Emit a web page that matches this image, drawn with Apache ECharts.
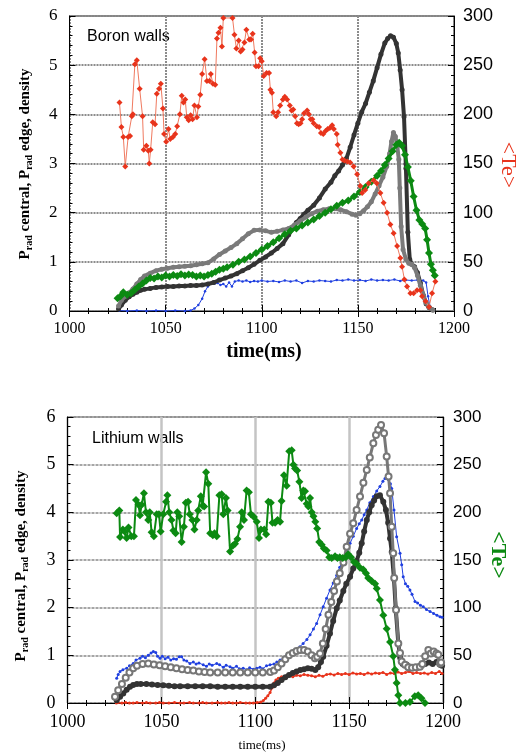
<!DOCTYPE html>
<html>
<head>
<meta charset="utf-8">
<script src="https://cdn.jsdelivr.net/npm/echarts@6/dist/echarts.min.js"></script>
<style>
  html, body { margin: 0; padding: 0; background: #fff; }
  #chart { width: 518px; height: 756px; }
</style>
</head>
<body>
<div id="chart"></div>
<script>
// ---- data: [time (ms), value] ----
// Boron walls (top panel)
const boronTe = [[1026,212],[1027,187],[1028,177],[1029,147],[1030.5,177],[1031.5,178],[1032.4,198],[1033,200],[1034,251],[1035,255],[1036.5,226],[1038,198],[1038.6,164],[1040,168],[1041,163],[1041.5,150],[1042.2,164],[1043.3,192],[1044.5,190],[1045.4,221],[1046.6,226],[1047.5,231],[1048.6,206],[1049.2,180],[1050.3,172],[1051.5,185],[1052.4,175],[1053.8,177],[1055,180],[1056,188],[1057.4,200],[1058.4,219],[1059.3,212],[1060.2,215],[1061,197],[1062,194],[1063,199],[1064,195],[1065,209],[1066.3,197],[1067,208],[1068,220],[1069,241],[1070.3,256],[1071.5,234],[1072.8,234],[1073.5,241],[1074.6,231],[1075.8,230],[1076.7,277],[1077.5,283],[1078.5,288],[1079.3,269],[1080,298],[1084.8,298],[1085.8,281],[1086.8,267],[1088,275],[1089,264],[1090,266],[1091,273],[1092,286],[1093.5,276],[1094.4,276],[1095.3,282],[1096.3,263],[1097,249],[1098.3,249],[1099.2,257],[1100,254],[1101,239],[1102.5,242],[1103.8,242],[1104.5,225],[1105.3,222],[1106,202],[1107.5,198],[1108.5,202],[1109.6,209],[1111,215],[1112,218],[1113.2,215],[1114.6,209],[1115.5,204],[1116.4,205],[1117.4,198],[1118.3,191],[1119.2,190],[1120.2,191],[1121,195],[1122,201],[1123.6,204],[1124.5,200],[1125.5,195],[1126.3,195],[1127,191],[1128.6,188],[1129.8,187],[1130.8,181],[1132,180],[1133.2,183],[1134.3,185],[1135.4,186],[1136.6,189],[1137.5,185],[1139,180],[1139.5,169],[1140.9,161],[1142,154],[1143,153],[1144.5,152],[1146,151],[1147.8,147],[1149.6,139],[1151.3,127],[1152.2,120],[1153.8,123],[1155.6,130],[1158.2,133],[1159.8,130],[1161.7,120],[1163.4,110],[1165.2,100],[1166.9,88],[1168.6,79],[1170.4,66],[1172.1,54],[1173,45],[1174.2,32],[1175.6,25],[1177.3,18],[1179,18],[1180.8,21],[1182.5,21],[1183.4,15],[1185.2,10],[1187,4],[1188.6,18],[1190.3,30]];
const boronDark = [[1025.5,0.04],[1027,0.12],[1029,0.22],[1031,0.29],[1033,0.34],[1035,0.38],[1037,0.42],[1039,0.44],[1042,0.46],[1045,0.48],[1048,0.49],[1051,0.50],[1054,0.50],[1057,0.51],[1060,0.51],[1063,0.52],[1066,0.52],[1069,0.53],[1072,0.55],[1075,0.58],[1078,0.63],[1081,0.67],[1084,0.71],[1087,0.76],[1090,0.82],[1093,0.88],[1096,0.95],[1099,1.03],[1102,1.10],[1105,1.18],[1108,1.27],[1111,1.37],[1114,1.55],[1116,1.68],[1118,1.80],[1120,1.88],[1122,1.97],[1124,2.05],[1127,2.15],[1130,2.30],[1133,2.48],[1136,2.62],[1138,2.75],[1140,2.85],[1142,2.97],[1144,3.10],[1146,3.33],[1148,3.58],[1150,3.82],[1152,4.05],[1154,4.22],[1156,4.45],[1158,4.68],[1160,4.95],[1162,5.22],[1164,5.45],[1165.5,5.54],[1167,5.60],[1168.5,5.57],[1170,5.44],[1171,5.25],[1172,4.90],[1173,4.50],[1174,3.95],[1175,2.90],[1176,1.60],[1177,1.05],[1178,0.95],[1179.5,0.90],[1181,0.78],[1182.5,0.57],[1184,0.32],[1185.5,0.15],[1187,0.07],[1189,0.02]];
const boronGray = [[1025.5,0.10],[1027,0.22],[1029,0.30],[1031,0.37],[1033,0.45],[1035,0.55],[1037,0.64],[1039,0.71],[1042,0.77],[1045,0.82],[1048,0.85],[1051,0.87],[1054,0.89],[1057,0.90],[1060,0.91],[1063,0.92],[1066,0.94],[1069,0.96],[1072,0.98],[1075,1.06],[1078,1.15],[1081,1.22],[1084,1.29],[1087,1.37],[1090,1.47],[1093,1.57],[1096,1.64],[1099,1.65],[1102,1.63],[1105,1.60],[1108,1.62],[1111,1.65],[1114,1.68],[1117,1.75],[1120,1.83],[1123,1.91],[1126,1.98],[1129,2.03],[1132,2.06],[1135,2.08],[1138,2.08],[1141,2.06],[1144,2.02],[1147,1.97],[1149,1.95],[1151,1.98],[1153,2.04],[1155,2.12],[1157,2.22],[1159,2.38],[1161,2.55],[1163,2.72],[1165,2.94],[1166.5,3.20],[1167.5,3.45],[1168.5,3.63],[1169.5,3.55],[1170.5,3.35],[1171.3,3.08],[1171.8,2.50],[1172.5,1.72],[1173.5,1.25],[1175,1.05],[1176.5,0.97],[1178,0.95],[1179.5,0.88],[1181,0.72],[1182.5,0.52],[1184,0.32],[1185.5,0.17],[1187,0.08],[1189,0.02]];
const boronGreen = [[1025,0.26],[1026.5,0.30],[1028,0.38],[1030,0.33],[1032,0.36],[1034,0.43],[1036,0.50],[1038,0.56],[1040,0.62],[1042,0.67],[1044,0.66],[1046,0.70],[1048,0.68],[1050,0.72],[1052,0.70],[1054,0.73],[1056,0.71],[1058,0.75],[1060,0.72],[1062,0.74],[1064,0.73],[1066,0.70],[1068,0.72],[1070,0.70],[1072,0.73],[1074,0.76],[1076,0.80],[1078,0.84],[1080,0.86],[1082,0.89],[1085,0.94],[1088,1.00],[1091,1.05],[1094,1.11],[1097,1.18],[1100,1.25],[1103,1.32],[1106,1.40],[1109,1.48],[1112,1.56],[1115,1.63],[1118,1.68],[1121,1.74],[1124,1.80],[1127,1.86],[1130,1.93],[1133,2.00],[1136,2.07],[1139,2.14],[1142,2.20],[1145,2.25],[1148,2.33],[1151,2.42],[1154,2.52],[1157,2.63],[1160,2.75],[1162,2.85],[1164,2.97],[1166,3.10],[1168,3.25],[1170,3.38],[1171.5,3.42],[1173,3.36],[1174.5,3.18],[1176,2.93],[1177.5,2.65],[1179,2.33],[1180.5,2.05],[1182,1.85],[1183.5,1.77],[1185,1.68],[1186,1.45],[1187,1.18],[1188,0.95],[1189,0.83],[1190,0.72]];
const boronBlue = [[1026,0.01],[1030,0.0],[1035,0.01],[1040,0.0],[1045,0.01],[1050,0.0],[1055,0.01],[1060,0.0],[1063,0.01],[1065,0.05],[1067,0.12],[1069,0.25],[1070.5,0.40],[1072,0.50],[1074,0.58],[1075.5,0.56],[1077,0.57],[1078.5,0.53],[1080,0.55],[1081.5,0.50],[1083,0.58],[1084.5,0.50],[1086,0.60],[1088,0.62],[1090,0.60],[1092,0.62],[1094,0.59],[1096,0.61],[1098,0.60],[1100,0.62],[1103,0.60],[1106,0.61],[1109,0.59],[1112,0.62],[1115,0.60],[1118,0.62],[1121,0.57],[1124,0.61],[1127,0.60],[1130,0.62],[1133,0.61],[1136,0.60],[1139,0.63],[1142,0.62],[1145,0.64],[1148,0.62],[1151,0.63],[1154,0.61],[1157,0.64],[1160,0.62],[1163,0.63],[1166,0.62],[1169,0.64],[1172,0.61],[1175,0.63],[1178,0.62],[1181,0.63],[1184,0.62],[1185.5,0.58],[1186.5,0.30],[1187.5,0.10],[1188.5,0.02],[1189.5,0.01]];

// Lithium walls (bottom panel)
const lithiumTe = [[1026.2,199],[1027.6,202],[1028,174],[1029.5,182],[1030.5,180],[1031.5,173],[1032.5,184],[1034,175],[1035.4,175],[1036.5,213],[1037.8,208],[1038.6,197],[1039.5,208],[1040.7,220],[1041.8,200],[1043,192],[1043.8,200],[1044.8,179],[1046,175],[1047.5,198],[1048.7,198],[1049.6,180],[1051,198],[1052.5,211],[1053.2,218],[1054.2,200],[1055.4,192],[1056.4,181],[1057.6,178],[1058.5,200],[1059.5,196],[1060.8,169],[1062,185],[1063,210],[1064.2,211],[1065.1,198],[1066.5,192],[1067.6,182],[1068.8,192],[1069.6,202],[1071,217],[1072,207],[1072.8,206],[1073.8,242],[1075,230],[1076,178],[1077.4,176],[1078.3,178],[1079.5,175],[1080.9,218],[1082.1,219],[1083,198],[1084.4,215],[1085.3,202],[1086.6,159],[1088,165],[1089.2,167],[1090.5,172],[1091.9,185],[1092.8,200],[1094,192],[1095.4,223],[1096.6,221],[1097.7,198],[1099.3,195],[1100.8,190],[1102,173],[1103,182],[1104.8,182],[1105.8,177],[1107,211],[1108.3,210],[1109.2,189],[1110.6,189],[1111.9,192],[1113.2,190],[1114,212],[1115.3,239],[1116.7,228],[1118.1,264],[1119.4,265],[1120.3,250],[1121.2,246],[1122.3,244],[1123.5,232],[1124.7,215],[1125.6,223],[1126.5,222],[1127.4,209],[1128.3,206],[1129.2,215],[1130.1,200],[1131,196],[1132,190],[1133,183],[1134.1,169],[1135.4,166],[1136.6,162],[1138,160],[1139.4,153],[1140.7,152],[1142.5,154],[1143.8,152],[1145,153],[1146.6,152],[1148.3,153],[1149.5,156],[1151,153],[1152.6,148],[1154,146],[1155.8,142],[1157.5,140],[1159,136],[1160.2,131],[1162,128],[1163.8,125],[1164.7,120],[1166.4,108],[1168.2,92],[1170,78],[1171.8,64],[1173.5,49],[1174.4,35],[1175.3,21],[1176.2,8],[1177.1,0],[1180,0],[1182.4,1],[1185,7],[1186.8,8],[1188.5,5],[1190.4,0]];
const lithiumGray = [[1025.3,0.13],[1027,0.27],[1029,0.40],[1031,0.53],[1033,0.64],[1035,0.73],[1037,0.78],[1040,0.82],[1043,0.83],[1046,0.81],[1049,0.79],[1052,0.77],[1055,0.75],[1058,0.73],[1061,0.71],[1064,0.69],[1067,0.68],[1070,0.66],[1073,0.65],[1076,0.64],[1080,0.64],[1084,0.64],[1088,0.64],[1092,0.64],[1096,0.64],[1100,0.64],[1104,0.64],[1108,0.65],[1110,0.68],[1112,0.75],[1114,0.83],[1116,0.92],[1118,1.00],[1120,1.05],[1122,1.09],[1124,1.11],[1126,1.11],[1128,1.08],[1130,1.00],[1131.8,0.94],[1133,0.97],[1134.5,1.04],[1136,1.25],[1137.5,1.55],[1139,1.85],[1140.5,2.12],[1142,2.35],[1143.5,2.55],[1145,2.72],[1147,2.95],[1148.7,3.28],[1150.5,3.55],[1152.2,3.77],[1154,4.05],[1155.8,4.33],[1157.6,4.62],[1159.4,4.89],[1161,5.15],[1162.9,5.45],[1164.3,5.62],[1165.5,5.73],[1167,5.83],[1168.6,5.66],[1170,5.17],[1171,4.75],[1171.8,4.40],[1172.7,3.70],[1173.5,3.14],[1174,2.62],[1175,1.95],[1176.2,1.25],[1177.1,1.05],[1178,0.87],[1179.8,0.80],[1181.5,0.75],[1183.5,0.74],[1185.5,0.75],[1187.7,0.76],[1189,0.82],[1190.5,0.98],[1192.2,1.11],[1193.5,1.04],[1195,1.08],[1196.5,1.04],[1197.5,1.01],[1198.4,0.83],[1199,0.85]];
const lithiumDark = [[1026.2,0.06],[1028,0.13],[1029.7,0.20],[1031.5,0.28],[1033.3,0.34],[1035,0.38],[1037,0.40],[1039,0.40],[1042,0.40],[1045,0.39],[1048,0.38],[1051,0.37],[1054,0.36],[1057,0.35],[1060,0.35],[1064,0.35],[1068,0.35],[1072,0.35],[1076,0.35],[1080,0.34],[1084,0.34],[1088,0.34],[1092,0.34],[1096,0.34],[1100,0.34],[1104,0.34],[1108,0.34],[1110,0.37],[1112,0.42],[1114,0.48],[1116,0.54],[1118,0.59],[1120,0.63],[1122,0.66],[1124,0.69],[1126,0.71],[1128,0.73],[1130,0.72],[1132,0.69],[1133.5,0.75],[1135,0.86],[1136.2,0.97],[1138,1.20],[1139.8,1.46],[1141.5,1.72],[1143.4,1.99],[1145,2.15],[1146.9,2.35],[1148.5,2.50],[1150.5,2.65],[1152.2,2.82],[1154,2.98],[1155.4,3.15],[1156.7,3.35],[1158,3.60],[1159.4,3.84],[1160.7,4.00],[1162,4.15],[1163.3,4.25],[1164.7,4.34],[1166.4,4.36],[1168.2,4.22],[1169.6,4.05],[1170.8,3.78],[1171.8,3.45],[1172.7,3.17],[1173.9,2.60],[1174.8,1.99],[1176.2,1.25],[1177.2,0.95],[1178.5,0.82],[1180.7,0.80],[1182.5,0.76],[1184.5,0.75],[1186.5,0.74],[1188.5,0.78],[1190.5,0.82],[1192.5,0.85],[1194.5,0.82],[1196.5,0.86],[1198.4,0.80],[1199.5,0.78]];
const lithiumBlue = [[1026.2,0.52],[1027,0.60],[1028,0.66],[1029.5,0.70],[1031.5,0.73],[1033,0.78],[1035,0.83],[1036.5,0.90],[1038.6,0.94],[1040,0.98],[1041.5,0.95],[1043,1.00],[1044.5,1.05],[1045.7,1.08],[1047,1.06],[1048,0.98],[1049.3,0.94],[1050.5,0.98],[1052,0.93],[1053.5,0.96],[1055,0.90],[1056.5,0.93],[1058,0.92],[1059.5,0.97],[1060.8,0.97],[1062,0.90],[1063.5,0.88],[1065.2,0.83],[1067,0.86],[1068.5,0.82],[1070,0.84],[1072.3,0.80],[1074,0.77],[1075.5,0.82],[1077,0.79],[1079.5,0.83],[1081,0.80],[1083,0.75],[1084.5,0.79],[1086.6,0.76],[1088,0.73],[1090,0.77],[1091.5,0.72],[1093.6,0.73],[1095.5,0.70],[1097,0.74],[1099,0.71],[1100.8,0.73],[1102.5,0.75],[1104,0.72],[1106,0.78],[1107.9,0.80],[1110,0.82],[1111.5,0.86],[1113.2,0.90],[1115,0.95],[1116.8,1.00],[1118.5,1.04],[1120,1.08],[1122,1.12],[1123.8,1.18],[1125.5,1.25],[1127.5,1.33],[1129.2,1.43],[1131,1.55],[1132.7,1.67],[1134.5,1.85],[1136.2,2.02],[1138,2.20],[1139.8,2.37],[1141.5,2.52],[1143.4,2.68],[1145,2.85],[1146.9,3.00],[1148.7,3.18],[1150.5,3.35],[1152.2,3.50],[1154,3.66],[1155.4,3.76],[1156.7,3.84],[1158,3.95],[1159.4,4.05],[1161,4.20],[1162.9,4.33],[1164.7,4.45],[1166.4,4.54],[1168,4.65],[1169.1,4.71],[1170.9,4.69],[1172,4.60],[1172.7,4.50],[1173.9,4.05],[1175.3,3.49],[1177.1,3.14],[1178,2.90],[1178.8,2.65],[1180,2.50],[1181.2,2.45],[1182.4,2.37],[1183.5,2.28],[1185.1,2.13],[1186.5,2.10],[1188,2.05],[1189.5,2.02],[1191.2,1.96],[1193.1,1.92],[1195,1.88],[1196.8,1.84],[1198.4,1.81],[1199.5,1.80]];
const lithiumRed = [[1026,0],[1027,0.01],[1029,0],[1031,0.01],[1033,0],[1035,0],[1037,0.01],[1040,0],[1042,0.01],[1044,0],[1047,0],[1049,0.01],[1051,0],[1054,0],[1057,0.01],[1060,0],[1062,0],[1065,0.01],[1067,0],[1070,0],[1072,0.01],[1074,0],[1077,0],[1080,0.01],[1082,0],[1084,0],[1086,0.01],[1088,0],[1090,0],[1092,0.01],[1095,0],[1097,0],[1099,0],[1101,0.01],[1103,0.02],[1104.3,0.05],[1105.5,0.10],[1106.7,0.15],[1107.9,0.22],[1109,0.32],[1110,0.42],[1111,0.48],[1112.3,0.52],[1114,0.55],[1116,0.56],[1118,0.58],[1120,0.55],[1122,0.58],[1124,0.57],[1126,0.60],[1128,0.58],[1130,0.57],[1132,0.55],[1134,0.58],[1136,0.56],[1138,0.60],[1140,0.61],[1142,0.59],[1144,0.62],[1146,0.60],[1148,0.62],[1150,0.60],[1152,0.63],[1154,0.61],[1156,0.62],[1158,0.60],[1160,0.63],[1162,0.61],[1164,0.63],[1166,0.62],[1168,0.64],[1170,0.60],[1172,0.63],[1174,0.62],[1176,0.65],[1178,0.62],[1180,0.64],[1182,0.66],[1184,0.62],[1186,0.64],[1188,0.62],[1190,0.63],[1192,0.61],[1194,0.64],[1196,0.62],[1198,0.66],[1199.5,0.62]];

const timeTicks = [1000, 1200, 50];
const leftTicks = [0, 6, 1];
const rightTicks = [0, 300, 50];

const SERIF = "Liberation Serif";
const SANS = "Liberation Sans";

function xAx(grid, pos, showLabel, split, fs) {
  return {
    type: 'value', gridIndex: grid, position: pos,
    min: timeTicks[0], max: timeTicks[1], interval: timeTicks[2],
    axisLine: { show: true, lineStyle: { color: '#000', width: 1 } },
    axisTick: { inside: true, length: 6, lineStyle: { color: '#000' } },
    minorTick: { show: true, splitNumber: 5, length: 3, lineStyle: { color: '#000' } },
    axisLabel: { show: showLabel, margin: 10, color: '#000', fontFamily: SERIF, fontSize: fs,
                 formatter: v => String(v) },
    splitLine: split || { show: false }
  };
}
function yAx(grid, pos, ticks, split, font, fs, margin) {
  return {
    type: 'value', gridIndex: grid, position: pos,
    min: ticks[0], max: ticks[1], interval: ticks[2],
    axisLine: { show: true, lineStyle: { color: '#000', width: 1 } },
    axisTick: { inside: true, length: 6, lineStyle: { color: '#000' } },
    minorTick: { show: true, splitNumber: 5, length: 3, lineStyle: { color: '#000' } },
    axisLabel: { margin: margin, color: '#000', fontFamily: font, fontSize: fs },
    splitLine: split || { show: false }
  };
}
const dotGrid = { show: true, lineStyle: { color: '#8c8c8c', width: 2, type: [2, 1] } };
const hGrid = { show: true, lineStyle: { color: '#a6a6a6', width: 2, type: [3, 1] } };
const solidGrid = { show: true, lineStyle: { color: '#c4c4c4', width: 2.5, type: 'solid' } };

function line(name, data, xi, yi, color, lineColor, lw, symbol, size, z) {
  return {
    name: name, type: 'line', data: data, xAxisIndex: xi, yAxisIndex: yi,
    symbol: symbol, symbolSize: size, showSymbol: true, z: z,
    itemStyle: { color: color },
    lineStyle: { color: lineColor, width: lw },
    emphasis: { disabled: true }
  };
}

function title(text, x, y, rot) {
  return {
    type: 'text', x: x, y: y, rotation: rot,
    style: {
      text: text, fill: '#000', align: 'center', verticalAlign: 'middle',
      rich: {
        b: { fontFamily: SERIF, fontSize: 15, fontWeight: 'bold', lineHeight: 18, fill: '#000' },
        s: { fontFamily: SERIF, fontSize: 10, fontWeight: 'bold', lineHeight: 10, verticalAlign: 'bottom', fill: '#000' }
      }
    }
  };
}

const chart = echarts.init(document.getElementById('chart'));
chart.setOption({
  animation: false,
  backgroundColor: '#fff',
  grid: [
    { left: 69.5, top: 16, width: 384.5, height: 295, show: true, borderColor: '#000', borderWidth: 1 },
    { left: 67.5, top: 417, width: 375.5, height: 286, show: true, borderColor: '#000', borderWidth: 1 }
  ],
  xAxis: [
    xAx(0, 'bottom', true, dotGrid, 16),
    xAx(0, 'top', false, null, 16),
    xAx(1, 'bottom', true, solidGrid, 18),
    xAx(1, 'top', false, null, 18)
  ],
  yAxis: [
    yAx(0, 'left', leftTicks, dotGrid, SERIF, 17, 12),
    yAx(0, 'right', rightTicks, null, SANS, 18, 9),
    yAx(1, 'left', leftTicks, hGrid, SERIF, 18, 12),
    yAx(1, 'right', rightTicks, null, SANS, 17, 10)
  ],
  series: [
    line('blue', boronBlue, 0, 0, '#1f3fe0', '#1f3fe0', 1, 'circle', 2.5, 2),
    line('dark', boronDark, 0, 0, '#333333', '#333333', 4, 'circle', 5, 3),
    line('gray', boronGray, 0, 0, '#7a7a7a', '#7a7a7a', 4, 'circle', 5, 4),
    line('green', boronGreen, 0, 0, '#0c8a12', '#0c8a12', 3, 'diamond', 8, 5),
    line('Te', boronTe, 0, 1, '#e8341c', '#f07a60', 1, 'diamond', 6, 6),

    line('red', lithiumRed, 2, 2, '#e8341c', '#e8341c', 1.5, 'circle', 3, 2),
    line('blue', lithiumBlue, 2, 2, '#1f3fe0', '#1f3fe0', 1, 'circle', 3, 3),
    line('dark', lithiumDark, 2, 2, '#333333', '#333333', 4, 'circle', 6, 4),
    line('gray', lithiumGray, 2, 2, '#777777', '#777777', 3, 'emptyCircle', 6, 5),
    line('Te', lithiumTe, 2, 3, '#0c8a12', '#0c8a12', 2, 'diamond', 8, 6)
  ],
  graphic: [
    { type: 'text', x: 87, y: 37, style: { text: 'Boron walls', fontFamily: SANS, fontSize: 16, fill: '#000', verticalAlign: 'middle' } },
    { type: 'text', x: 92, y: 439, style: { text: 'Lithium walls', fontFamily: SANS, fontSize: 16, fill: '#000', verticalAlign: 'middle' } },
    title('{b|P}{s|rad}{b| central, P}{s|rad}{b| edge, density}', 25, 164, Math.PI / 2),
    title('{b|P}{s|rad}{b| central, P}{s|rad}{b| edge, density}', 21, 566, Math.PI / 2),
    { type: 'text', x: 508, y: 165, rotation: -Math.PI / 2,
      style: { text: '<Te>', fontFamily: SERIF, fontSize: 22, fill: '#e8341c', align: 'center', verticalAlign: 'middle' } },
    { type: 'text', x: 498, y: 555, rotation: -Math.PI / 2,
      style: { text: '<Te>', fontFamily: SERIF, fontSize: 22, fontWeight: 'bold', fill: '#0c8a12', align: 'center', verticalAlign: 'middle' } },
    { type: 'text', x: 264, y: 352,
      style: { text: 'time(ms)', fontFamily: SERIF, fontSize: 20, fontWeight: 'bold', fill: '#000', align: 'center', verticalAlign: 'middle' } },
    { type: 'text', x: 262, y: 746,
      style: { text: 'time(ms)', fontFamily: SERIF, fontSize: 13, fill: '#000', align: 'center', verticalAlign: 'middle' } }
  ]
});
</script>
</body>
</html>
